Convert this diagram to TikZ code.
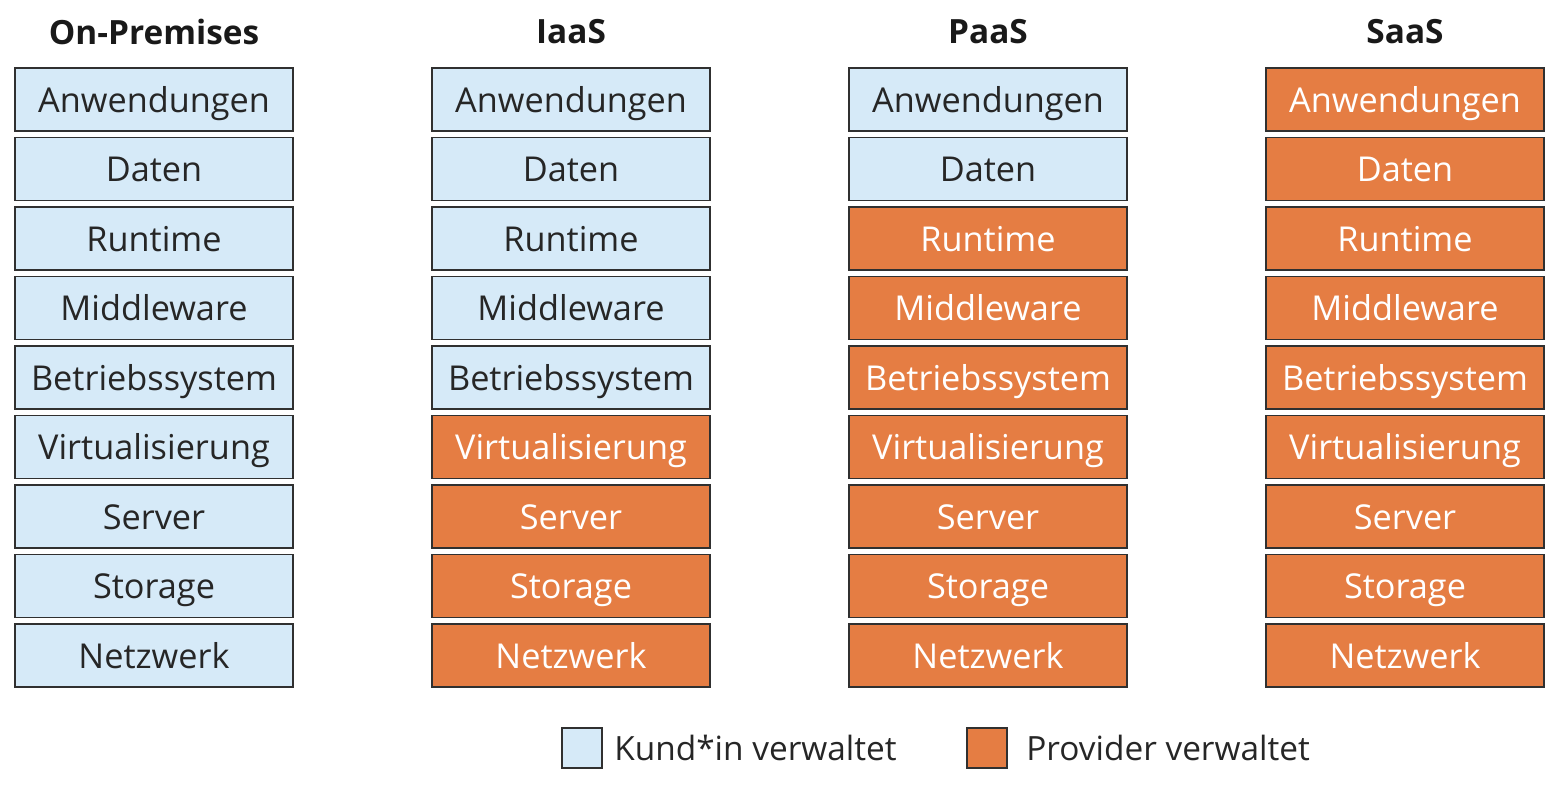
\documentclass[tikz,border=0pt]{standalone}
\usepackage{fontspec}
\setmainfont{Open Sans}
\usetikzlibrary{positioning}
\definecolor{kunde}{HTML}{D6EAF8}
\definecolor{provider}{HTML}{E57D43}
\definecolor{rand}{HTML}{303030}
\tikzstyle{layer}=[draw=rand,line width=1.1pt,minimum width=5.56cm,minimum height=1.26cm,inner sep=0pt,text height=16pt,text depth=1.5pt,font=\fontsize{19.5}{22}\selectfont]
\tikzstyle{title}=[font=\bfseries\fontsize{19}{22}\selectfont,text=black!90]
\tikzstyle{legend box}=[layer,minimum width=0.8cm,minimum height=0.8cm]
\tikzstyle{legend text}=[font=\fontsize{19}{22}\selectfont,text=black!85,inner sep=0pt]

\begin{document}
\begin{tikzpicture}
	\useasboundingbox (0,0) rectangle (31.24,-15.72);
	% columns with their stacks, \k = layers managed by the customer
	\foreach \x/\col/\titel/\k in {3.08/onprem/On-Premises/9, 11.42/iaas/IaaS/5,
	                               19.76/paas/PaaS/2, 28.10/saas/SaaS/0}{
		\node[title] (\col) at (\x,-0.64) {\titel};
		\foreach \schicht [count=\i] in {Anwendungen, Daten, Runtime, Middleware,
		                                 Betriebssystem, Virtualisierung, Server,
		                                 Storage, Netzwerk}{
			\ifnum\i>\k \def\fc{provider}\def\tc{white}\else \def\fc{kunde}\def\tc{black!85}\fi
			\node[layer,fill=\fc,text=\tc] (\col-\i) at (\x,{-1.99-(\i-1)*1.39}) {\schicht};
		}
	}
	% legend
	\node[legend box,fill=kunde] (kundebox) at (11.64,-14.96) {};
	\node[legend text,right=0.22cm of kundebox] (kundetext) {Kund*in verwaltet};
	\node[legend box,fill=provider] (providerbox) at (19.74,-14.96) {};
	\node[legend text,right=0.36cm of providerbox] (providertext) {Provider verwaltet};
\end{tikzpicture}
\end{document}
